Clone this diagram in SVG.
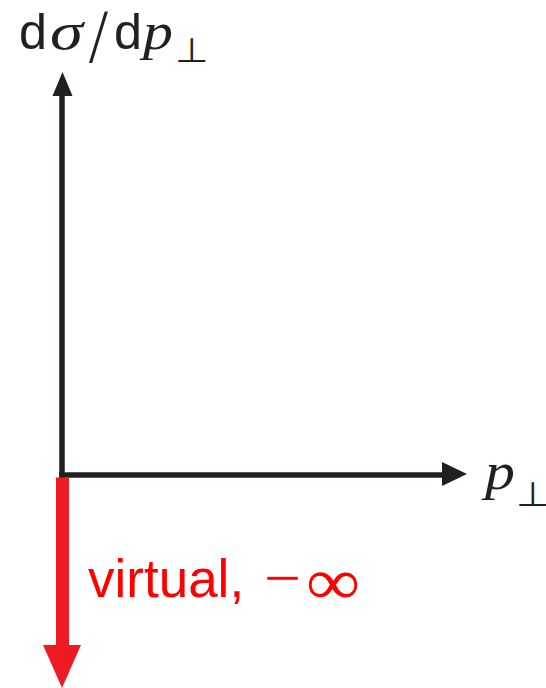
<svg xmlns="http://www.w3.org/2000/svg" width="546" height="688" viewBox="0 0 546 688">
<style>
.sans{font-family:"Liberation Sans",Arial,sans-serif;}
.it{font-family:"Liberation Serif","Times New Roman",serif;font-style:italic;}
.rm{font-family:"Liberation Serif","Times New Roman",serif;}
.sym{font-family:"DejaVu Sans",sans-serif;font-weight:200;}
.ink{fill:#231f20;}
.axis{stroke:#231f20;stroke-width:5.5;fill:none;}
.red{fill:#ff0000;}
</style>
<rect width="546" height="688" fill="#ffffff"/>
<g id="connectors">
  <line id="y-axis" class="axis" x1="62" y1="478" x2="62" y2="92"/>
  <polygon class="ink" points="62.5,72 52.5,96 72.5,96"/>
  <line id="x-axis" class="axis" x1="59.25" y1="475" x2="444" y2="475"/>
  <polygon class="ink" points="467,474 442,462 442,486"/>
  <rect id="virtual-bar" x="56" y="477.5" width="13" height="169" fill="#ed1c24"/>
  <polygon fill="#ed1c24" points="43,645 81,645 62,688"/>
</g>
<g id="y-label" class="ink">
  <text class="sans" x="19" y="49" font-size="50" textLength="28" lengthAdjust="spacingAndGlyphs">d</text>
  <text class="it" x="50" y="49" font-size="52" textLength="33" lengthAdjust="spacingAndGlyphs">σ</text>
  <text class="sym" x="88" y="57" font-size="62">/</text>
  <text class="sans" x="114" y="49" font-size="50" textLength="28" lengthAdjust="spacingAndGlyphs">d</text>
  <text class="it" x="143" y="49" font-size="52" textLength="30" lengthAdjust="spacingAndGlyphs">p</text>
  <text class="sym" x="175" y="62" font-size="34" textLength="34" lengthAdjust="spacingAndGlyphs">⊥</text>
</g>
<g id="x-label" class="ink">
  <text class="it" x="485" y="489" font-size="52" textLength="30" lengthAdjust="spacingAndGlyphs">p</text>
  <text class="sym" x="516" y="506" font-size="34" textLength="34" lengthAdjust="spacingAndGlyphs">⊥</text>
</g>
<g id="virtual-label" class="red">
  <text class="sans" x="88" y="597" font-size="53">virtual,</text>
  <text class="rm" x="264" y="598" font-size="60" textLength="37" lengthAdjust="spacingAndGlyphs">−</text>
  <text class="rm" x="306" y="604" font-size="66" textLength="54" lengthAdjust="spacingAndGlyphs">∞</text>
</g>
</svg>
